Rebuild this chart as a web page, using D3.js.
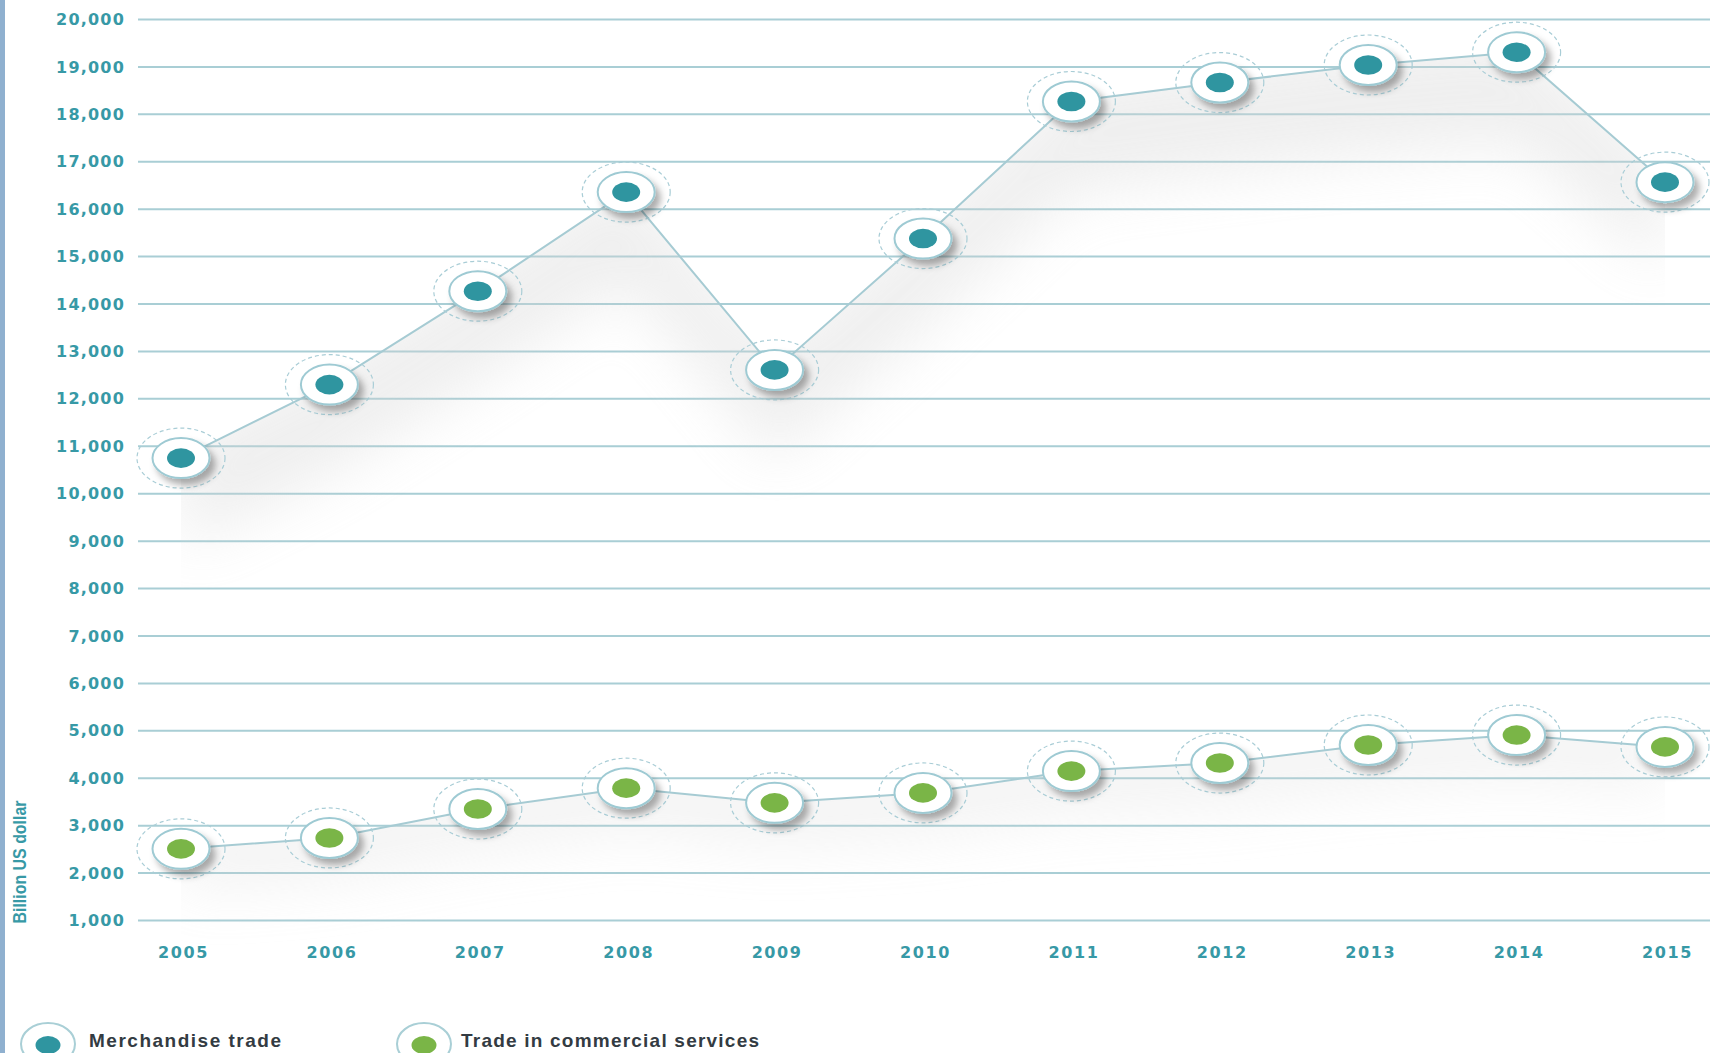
<!DOCTYPE html>
<html>
<head>
<meta charset="utf-8">
<script src="https://cdn.jsdelivr.net/npm/d3@7"></script>
<style>
    body { margin: 0; background: #fff; }
    svg { display: block; }
</style>
</head>
<body>
<script>
let years = ["2005", "2006", "2007", "2008", "2009", "2010", "2011", "2012", "2013", "2014", "2015"];
let merchandise = [10740, 12290, 14260, 16350, 12600, 15370, 18260, 18660, 19030, 19300, 16560];
let services = [2500, 2730, 3340, 3780, 3470, 3680, 4140, 4310, 4690, 4900, 4650];
let yTicks = [1000, 2000, 3000, 4000, 5000, 6000, 7000, 8000, 9000, 10000,
    11000, 12000, 13000, 14000, 15000, 16000, 17000, 18000, 19000, 20000];
let seriesNames = ["Merchandise trade", "Trade in commercial services"];

let width = 1710, height = 1053;
let teal = "#2f95a0", green = "#7ab547", gridColor = "#a9ced5", labelColor = "#3799a6";

let svg = d3.select("body").append("svg")
    .attr("width", width)
    .attr("height", height);

let defs = svg.append("defs");

let shadow = defs.append("filter")
    .attr("id", "shadow")
    .attr("x", "-50%").attr("y", "-50%")
    .attr("width", "200%").attr("height", "200%");
shadow.append("feDropShadow")
    .attr("dx", 5).attr("dy", 6)
    .attr("stdDeviation", 3.5)
    .attr("flood-color", "#000")
    .attr("flood-opacity", 0.32);

let soft = defs.append("filter")
    .attr("id", "soft")
    .attr("x", "-20%").attr("y", "-50%")
    .attr("width", "140%").attr("height", "200%");
soft.append("feGaussianBlur").attr("stdDeviation", 30);

// left edge bar
svg.append("rect")
    .attr("x", 0).attr("y", 0)
    .attr("width", 5).attr("height", height)
    .attr("fill", "#8fb0cf");

let x = d3.scalePoint()
    .domain(years)
    .range([181, 1665]);

let y = d3.scaleLinear()
    .domain([1000, 20000])
    .range([920, 19]);

// gridlines + y labels
let yAxis = svg.append("g")
    .attr("transform", "translate(138,0)")
    .call(d3.axisLeft(y).tickValues(yTicks).tickSize(-(width - 138)).tickPadding(13)
        .tickFormat(d3.format(",")));
yAxis.select(".domain").remove();
yAxis.selectAll(".tick line")
    .attr("stroke", gridColor)
    .attr("stroke-width", 2);
yAxis.selectAll(".tick text")
    .attr("fill", labelColor)
    .attr("font-family", "DejaVu Sans")
    .attr("font-weight", "bold")
    .attr("font-size", 16)
    .attr("letter-spacing", 1.2)
    .attr("dy", "0.35em");

// x labels
let xAxis = svg.append("g")
    .attr("transform", "translate(2,952)")
    .call(d3.axisBottom(x).tickSize(0).tickPadding(0));
xAxis.select(".domain").remove();
xAxis.selectAll(".tick text")
    .attr("fill", labelColor)
    .attr("font-family", "DejaVu Sans")
    .attr("font-weight", "bold")
    .attr("font-size", 16)
    .attr("letter-spacing", 1.6)
    .attr("dy", "0.35em");

// y title
svg.append("text")
    .attr("transform", "translate(26,862) rotate(-90)")
    .attr("text-anchor", "middle")
    .attr("fill", labelColor)
    .attr("font-family", "Liberation Sans Narrow, Liberation Sans, Arial")
    .attr("font-weight", "bold")
    .attr("font-size", 18)
    .attr("textLength", 123)
    .attr("lengthAdjust", "spacingAndGlyphs")
    .text("Billion US dollar");

// soft grey shade just below a series line
function drawShade(values, depth, id, opacity) {
    let pts = years.map((yr, i) => [x(yr), y(values[i])]);
    defs.append("clipPath")
        .attr("id", id)
        .append("path")
        .attr("d", d3.area().x(d => d[0]).y0(height).y1(d => d[1])(pts));

    svg.append("g")
        .attr("clip-path", `url(#${id})`)
        .append("path")
        .attr("d", d3.area().x(d => d[0]).y0(d => d[1] + depth).y1(d => d[1] - 20)(pts))
        .attr("fill", "#d4d4d4")
        .attr("opacity", opacity)
        .attr("filter", "url(#soft)");
}

function drawSeries(values, color) {
    let line = d3.line()
        .x((d, i) => x(years[i]))
        .y(d => y(d));

    svg.append("path")
        .datum(values)
        .attr("d", line)
        .attr("fill", "none")
        .attr("stroke", "#a6cbd3")
        .attr("stroke-width", 2);

    let marks = svg.append("g")
        .selectAll("g")
        .data(values)
        .enter().append("g")
        .attr("transform", (d, i) => `translate(${x(years[i])},${y(d)})`);

    marks.append("ellipse")
        .attr("rx", 44).attr("ry", 30)
        .attr("fill", "none")
        .attr("stroke", "#a9cdd6")
        .attr("stroke-width", 1.2)
        .attr("stroke-dasharray", "4,3");

    marks.append("ellipse")
        .attr("rx", 28.5).attr("ry", 20)
        .attr("fill", "#fff")
        .attr("stroke", "#9ecad3")
        .attr("stroke-width", 2)
        .attr("filter", "url(#shadow)");

    marks.append("ellipse")
        .attr("rx", 14).attr("ry", 9.8)
        .attr("fill", color);
}

drawShade(merchandise, 90, "clipM", 0.38);
drawShade(services, 40, "clipS", 0.3);
drawSeries(merchandise, teal);
drawSeries(services, green);

// legend
let legend = svg.append("g")
    .selectAll("g")
    .data(seriesNames)
    .enter().append("g")
    .attr("transform", (d, i) => `translate(${[48, 424][i]},1044)`);

legend.append("ellipse")
    .attr("rx", 27).attr("ry", 21)
    .attr("fill", "#fff")
    .attr("stroke", "#a9cfd6")
    .attr("stroke-width", 2);

legend.append("ellipse")
    .attr("rx", 12.5).attr("ry", 9)
    .attr("cy", 1)
    .attr("fill", (d, i) => [teal, green][i]);

legend.append("text")
    .attr("x", (d, i) => [41, 37][i])
    .attr("y", -4)
    .attr("dy", "0.35em")
    .attr("fill", "#333b42")
    .attr("font-family", "Liberation Sans, Arial")
    .attr("font-weight", "bold")
    .attr("font-size", 19)
    .attr("textLength", (d, i) => [192, 298][i])
    .attr("lengthAdjust", "spacing")
    .text(d => d);
</script>
</body>
</html>
